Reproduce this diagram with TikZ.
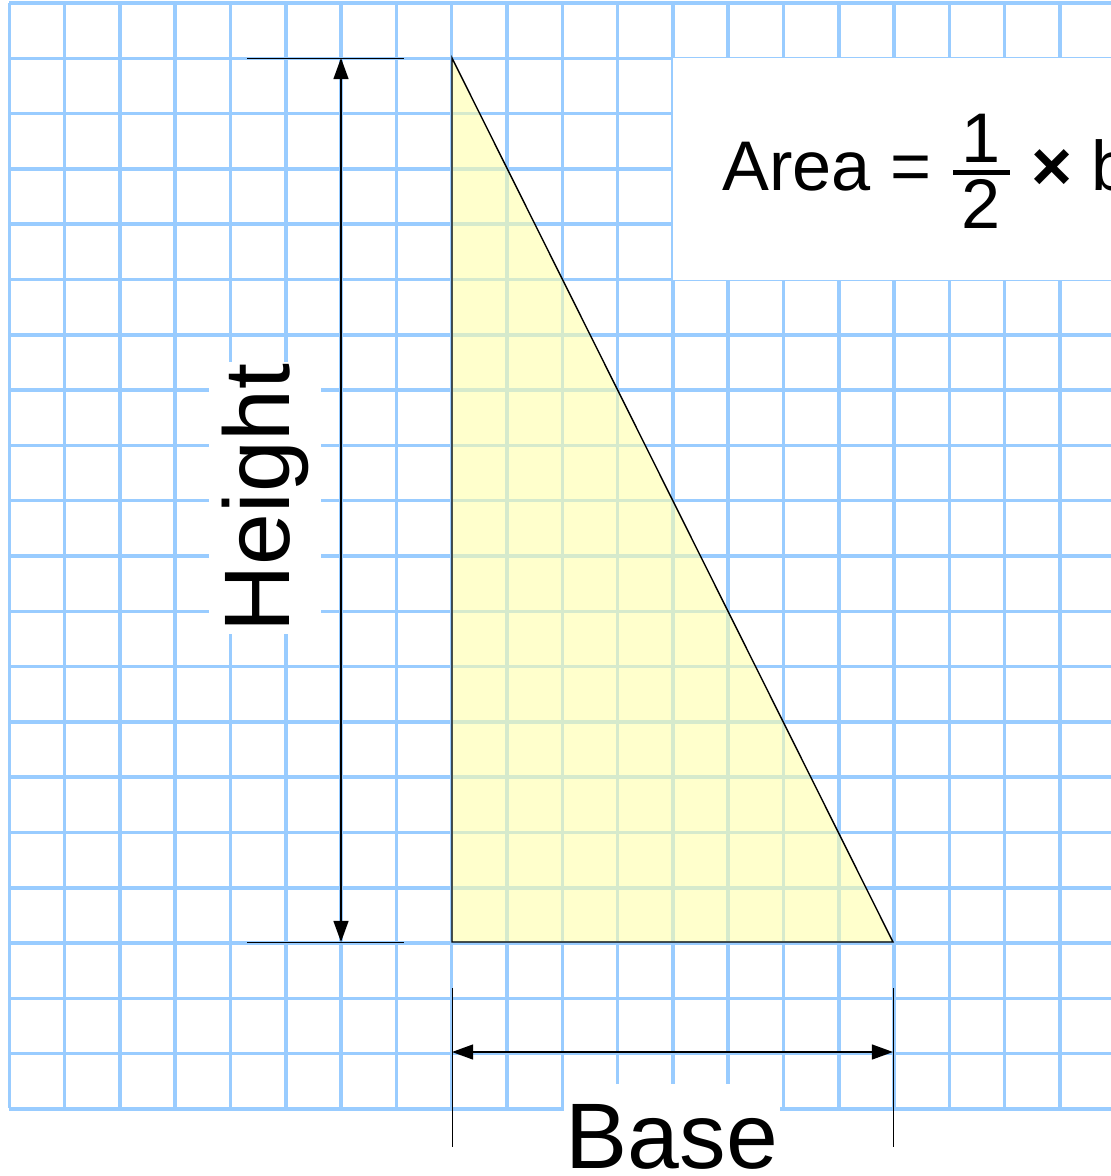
\documentclass[tikz,border=0pt]{standalone}
\usepackage{fix-cm}
\usepackage{fontspec}
\setmainfont{Liberation Sans}
\usepackage{tikz}
\usetikzlibrary{arrows.meta,calc}
\definecolor{gridblue}{RGB}{153,204,255}
\definecolor{paleyellow}{RGB}{255,255,170}

\begin{document}
\begin{tikzpicture}[x=0.02cm,y=-0.02cm,
  gridline/.style={draw=gridblue,line width=2pt},
  extline/.style={draw=black,line width=0.5pt},
  dimline/.style={draw=black,line width=0.9pt,
    {Triangle[length=12pt,width=8.5pt]}-{Triangle[length=12pt,width=8.5pt]}},
  dimlabel/.style={fill=white,inner xsep=1pt,inner ysep=7pt,
    font=\fontsize{53}{60}\selectfont}]
\useasboundingbox (0,0) rectangle (1111,1176);
\foreach \i in {0,...,19}
  \draw[gridline] (9.3+55.3*\i,3) -- (9.3+55.3*\i,1108);
\foreach \j in {0,...,20}
  \draw[gridline] (9.3,3+55.3*\j) -- (1120,3+55.3*\j);
\coordinate (apex) at (452,58);
\coordinate (corner) at (452,942);
\coordinate (tip) at (893,942);
\fill[paleyellow,fill opacity=0.6] (apex) -- (corner) -- (tip) -- cycle;
\draw[line width=0.8pt] (apex) -- (corner) -- (tip) -- cycle;
\node[fill=white,anchor=north west,minimum width=8.9cm,minimum height=4.44cm,
  inner sep=0pt] (areabox) at (673,58) {};
\node[anchor=base west,inner sep=0pt,font=\fontsize{40}{48}\selectfont] (formula)
  at (722,190) {Area = $\mbox{\hspace{5pt}1\hspace{5pt}}\above2.5pt
  \mbox{\hspace{5pt}2\hspace{5pt}}$ \textbf{×} b};
\coordinate (htop) at (341,58);
\coordinate (hbot) at (341,942);
\draw[extline] ($(htop)+(-94,0)$) -- ($(htop)+(63,0)$);
\draw[extline] ($(hbot)+(-94,0)$) -- ($(hbot)+(63,0)$);
\draw[dimline] (htop) -- (hbot);
\node[dimlabel,rotate=90,anchor=base] (height) at (289,498) {Height};
\coordinate (bleft) at (452,1052);
\coordinate (bright) at (893,1052);
\draw[extline] ($(bleft)+(0,-64)$) -- ($(bleft)+(0,95)$);
\draw[extline] ($(bright)+(0,-64)$) -- ($(bright)+(0,95)$);
\draw[dimline] (bleft) -- (bright);
\node[dimlabel,anchor=base,inner ysep=2pt,text height=46pt] (base)
  at (672,1168) {Base};
\end{tikzpicture}
\end{document}
